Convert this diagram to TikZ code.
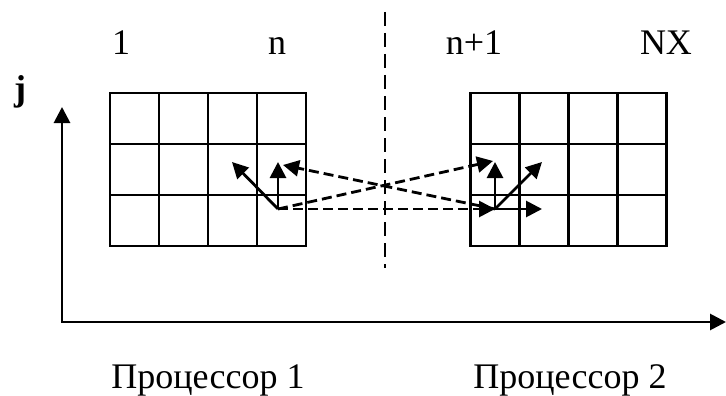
\documentclass[tikz,border=0pt]{standalone}
\usepackage{fontspec}
\setmainfont{Liberation Serif}
\usetikzlibrary{matrix, arrows, arrows.meta, positioning, calc}

\begin{document}
\begin{tikzpicture}[x=1pt,y=-1pt,>={Triangle[length=16pt,width=16pt]},
      line width=2.8pt,
      every node/.style={font=\fontsize{36}{40}\selectfont}]
            \useasboundingbox (0,0) rectangle (726,396);

             \tikzstyle{gridcells} = [matrix of nodes, nodes in empty cells,
                ampersand replacement=\&,
                column sep=-\pgflinewidth, row sep=-\pgflinewidth,
                nodes={draw, line width=2.8pt, minimum width=49pt, minimum height=51pt, inner sep=0pt}]
             \tikzstyle{halo} = [draw, dash pattern=on 10pt off 5pt, ->]

            \matrix (proc1) at (208,169.5) [gridcells]{
               \& \& \& \\
               \& \& \& \\
               \& \& \& \\
            };
            \matrix (proc2) at (568.5,169.5) [gridcells]{
               \& \& \& \\
               \& \& \& \\
               \& \& \& \\
            };

             \node [anchor=base] at (121,55) (first) {1};
             \node [anchor=base] at (277,55) (last) {n};
             \node [anchor=base] at (474,55) (next) {n+1};
             \node [anchor=base] at (666,55) (nx) {NX};
             \node [anchor=base, font=\fontsize{36}{40}\selectfont\bfseries] at (20,100) (jlabel) {j};

             \node [anchor=base] at (208,388) (cpu1) {Процессор 1};
             \node [anchor=base] at (570,388) (cpu2) {Процессор 2};

             % axes
             \coordinate (origin) at (62,322);
             \coordinate (jaxis) at (62,107);
             \coordinate (iaxis) at (726,322);
             \draw [<->] (jaxis) -- (origin) -- (iaxis);

             % boundary between the two processors
             \coordinate (cut1) at (385,12);
             \coordinate (cut2) at (385,268);
             \draw [dash pattern=on 14pt off 7pt] (cut1) -- (cut2);

             % stencil on processor 1
             \coordinate (p) at (278,209);
             \coordinate (pup) at (278,162);
             \coordinate (pleft) at (232,162);
             \coordinate (pin) at (283,165);
             \draw [->] (p) -- (pup);
             \draw [->] (p) -- (pleft);

             % stencil on processor 2
             \coordinate (q) at (495,209);
             \coordinate (qup) at (495,162);
             \coordinate (qright) at (542,162);
             \coordinate (qr) at (542,209);
             \coordinate (qin) at (493,161);
             \draw [->] (q) -- (qup);
             \draw [->] (q) -- (qright);
             \draw [->] (q) -- (qr);

             % exchange across the boundary
             \draw [halo] (p) -- (q);
             \draw [halo] (p) -- (qin);
             \draw [halo] (q) -- (pin);
\end{tikzpicture}
\end{document}
